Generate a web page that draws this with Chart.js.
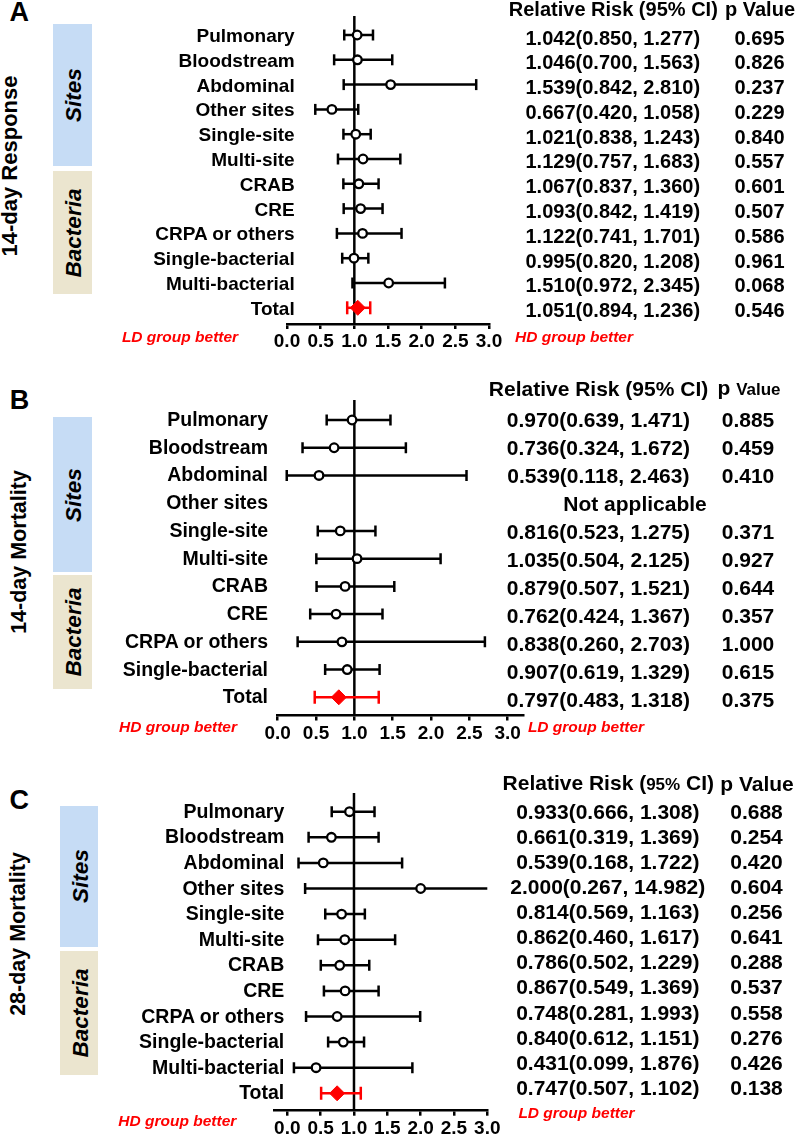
<!DOCTYPE html>
<html><head><meta charset="utf-8">
<script src="https://cdn.jsdelivr.net/npm/chart.js@4.4.1/dist/chart.umd.min.js"></script>
<style>
html,body{margin:0;padding:0;background:#fff;}
#page{position:relative;width:796px;height:1137px;overflow:hidden;background:#fff;font-family:"Liberation Sans",Arial,sans-serif;color:#000;}
#page canvas{position:absolute;left:0;}
.t{position:absolute;white-space:nowrap;}
</style></head><body><div id="page"></div>
<script>
// ---------- data ----------
const tickValues = [0, 0.5, 1, 1.5, 2, 2.5, 3];
const tickLabels = ['0.0', '0.5', '1.0', '1.5', '2.0', '2.5', '3.0'];
const nullValue = 1;

const rowsA = ['Pulmonary','Bloodstream','Abdominal','Other sites','Single-site','Multi-site','CRAB','CRE','CRPA or others','Single-bacterial','Multi-bacterial','Total'];
const rrA = [1.042,1.046,1.539,0.667,1.021,1.129,1.067,1.093,1.122,0.995,1.510,1.051];
const loA = [0.850,0.700,0.842,0.420,0.838,0.757,0.837,0.842,0.741,0.820,0.972,0.894];
const hiA = [1.277,1.563,2.810,1.058,1.243,1.683,1.360,1.419,1.701,1.208,2.345,1.236];
const pA  = ['0.695','0.826','0.237','0.229','0.840','0.557','0.601','0.507','0.586','0.961','0.068','0.546'];

const rowsB = ['Pulmonary','Bloodstream','Abdominal','Other sites','Single-site','Multi-site','CRAB','CRE','CRPA or others','Single-bacterial','Total'];
const rrB = [0.970,0.736,0.539,null,0.816,1.035,0.879,0.762,0.838,0.907,0.797];
const loB = [0.639,0.324,0.118,null,0.523,0.504,0.507,0.424,0.260,0.619,0.483];
const hiB = [1.471,1.672,2.463,null,1.275,2.125,1.521,1.367,2.703,1.329,1.318];
const pB  = ['0.885','0.459','0.410',null,'0.371','0.927','0.644','0.357','1.000','0.615','0.375'];

const rowsC = ['Pulmonary','Bloodstream','Abdominal','Other sites','Single-site','Multi-site','CRAB','CRE','CRPA or others','Single-bacterial','Multi-bacterial','Total'];
const rrC = [0.933,0.661,0.539,2.000,0.814,0.862,0.786,0.867,0.748,0.840,0.431,0.747];
const loC = [0.666,0.319,0.168,0.267,0.569,0.460,0.502,0.549,0.281,0.612,0.099,0.507];
const hiC = [1.308,1.369,1.722,14.982,1.163,1.617,1.229,1.369,1.993,1.151,1.876,1.102];
const pC  = ['0.688','0.254','0.420','0.604','0.256','0.641','0.288','0.537','0.558','0.276','0.426','0.138'];

const notApplicable = 'Not applicable';

// ---------- styles / layout ----------
const FONT = '"Liberation Sans", Arial, sans-serif';
const RED = '#ff0000';
const BLUE = '#c6dcf5';
const BEIGE = '#ebe5cf';
const LW = 2.5;

const panels = [
  { letter:'A', title:'14-day Response', rows:rowsA, rr:rrA, lo:loA, hi:hiA, p:pA,
    leftNote:'LD group better', rightNote:'HD group better',
    L:{ canvasTop:0, canvasH:356, plotLeft:287, plotRight:489, xMin:0, xMax:3, plotTop:16, axisY:324,
        rowTop:35, rowStep:24.8, labelRight:294.7, labelSize:19,
        letterX:19.3, letterY:12, titleX:10, titleY:166, titleSize:22, titleWeight:'bold',
        boxX:53.3, boxW:38.4, sites:[24,165.7], bact:[170.7,294.3],
        headY:9.3, headCiX:613.3, headPX:760, headSize:20, valueSize:20, pctSize:20,
        ciX:612.8, pX:759.5, tabSize:20, tabTop:37.5, tabStep:24.78,
        leftNoteX:180, leftNoteY:337, rightNoteX:574, rightNoteY:337 } },
  { letter:'B', title:'14-day Mortality', rows:rowsB, rr:rrB, lo:loB, hi:hiB, p:pB,
    leftNote:'HD group better', rightNote:'LD group better',
    L:{ canvasTop:380, canvasH:375, plotLeft:277.7, plotRight:523, xMin:0, xMax:3.2, plotTop:400, axisY:715.5,
        rowTop:420, rowStep:27.73, labelRight:268, labelSize:19.5,
        letterX:19.6, letterY:400, titleX:19.5, titleY:551.5, titleSize:21.5, titleWeight:'bold',
        boxX:53.3, boxW:38.4, sites:[417.3,572.3], bact:[575,689.3],
        headY:388, headCiX:598.5, headPX:749, headSize:21, valueSize:17, pctSize:21,
        ciX:598.4, pX:748, tabSize:21, tabTop:418.8, tabStep:28,
        leftNoteX:178, leftNoteY:727, rightNoteX:586, rightNoteY:727 } },
  { letter:'C', title:'28-day Mortality', rows:rowsC, rr:rrC, lo:loC, hi:hiC, p:pC,
    leftNote:'HD group better', rightNote:'LD group better',
    L:{ canvasTop:770, canvasH:367, plotLeft:274, plotRight:487.3, xMin:-0.2, xMax:3, plotTop:793, axisY:1110.7,
        rowTop:811.7, rowStep:25.6, labelRight:284.3, labelSize:19.5,
        letterX:19.2, letterY:800, titleX:18.6, titleY:934, titleSize:21.5, titleWeight:'bold',
        boxX:60, boxW:37.7, sites:[806,946.7], bact:[951,1075],
        headY:782.7, headCiX:608.3, headPX:757, headSize:21, valueSize:21, pctSize:17,
        ciX:607.8, pX:756.5, tabSize:21, tabTop:811, tabStep:25.07,
        leftNoteX:177.3, leftNoteY:1120.7, rightNoteX:576.5, rightNoteY:1113.3 } }
];

const page = document.getElementById('page');

function addText(html, x, y, css, align) {
  const d = document.createElement('div');
  d.className = 't';
  d.innerHTML = html;
  d.style.left = x + 'px';
  d.style.top = y + 'px';
  let tr = 'translate(-50%,-50%)';
  if (align === 'right') tr = 'translate(-100%,-50%)';
  if (align === 'rot') tr = 'translate(-50%,-50%) rotate(-90deg)';
  d.style.transform = tr;
  Object.assign(d.style, css);
  page.appendChild(d);
  return d;
}
function addBox(x, y0, y1, w, color) {
  const d = document.createElement('div');
  Object.assign(d.style, {position:'absolute', left:x+'px', top:y0+'px', width:w+'px', height:(y1-y0)+'px', background:color});
  page.appendChild(d);
}

const refLine = {
  id: 'refLine',
  beforeDatasetsDraw(chart) {
    const { ctx, chartArea: a, scales: { x } } = chart;
    const px = x.getPixelForValue(nullValue);
    ctx.save();
    ctx.strokeStyle = '#000';
    ctx.lineWidth = LW;
    ctx.beginPath();
    ctx.moveTo(px, a.top);
    ctx.lineTo(px, a.bottom);
    ctx.stroke();
    ctx.restore();
  }
};

function fmt(v) { return v.toFixed(3); }

panels.forEach(P => {
  const L = P.L;
  // group boxes
  addBox(L.boxX, L.sites[0], L.sites[1], L.boxW, BLUE);
  addBox(L.boxX, L.bact[0], L.bact[1], L.boxW, BEIGE);
  const boxCx = L.boxX + L.boxW / 2 + 0.8;
  const gf = {font:'italic bold 22.5px ' + FONT, lineHeight:'23px'};
  addText('Sites', boxCx, (L.sites[0] + L.sites[1]) / 2, gf, 'rot');
  addText('Bacteria', boxCx, (L.bact[0] + L.bact[1]) / 2, gf, 'rot');

  // letter + title
  addText(P.letter, L.letterX, L.letterY, {font:'bold 27px ' + FONT, lineHeight:'27px'});
  addText(P.title, L.titleX, L.titleY, {font:L.titleWeight + ' ' + L.titleSize + 'px ' + FONT, lineHeight:L.titleSize + 'px'}, 'rot');

  // canvas chart
  const cv = document.createElement('canvas');
  cv.width = 796; cv.height = L.canvasH;
  cv.style.top = L.canvasTop + 'px';
  cv.style.width = '796px'; cv.style.height = L.canvasH + 'px';
  page.appendChild(cv);

  const datasets = [];
  const circles = [], totals = [];
  P.rows.forEach((name, i) => {
    if (P.rr[i] == null) return;
    const isTotal = name === 'Total';
    (isTotal ? totals : circles).push({ x: P.rr[i], y: i });
    const col = isTotal ? RED : '#000';
    datasets.push({
      type: 'line',
      data: [{ x: P.lo[i], y: i }, { x: P.hi[i], y: i }],
      borderColor: col, borderWidth: LW, tension: 0, fill: false,
      pointStyle: 'line', pointRotation: 90, pointRadius: isTotal ? 6.5 : 5.5,
      pointBorderColor: col, pointBackgroundColor: col, pointBorderWidth: LW,
      order: 2
    });
  });
  datasets.push({ type: 'scatter', data: circles, showLine: false, pointStyle: 'circle', pointRadius: 4.3,
    pointBorderWidth: 2.3, pointBorderColor: '#000', pointBackgroundColor: '#fff', order: 1 });
  datasets.push({ type: 'scatter', data: totals, showLine: false, pointStyle: 'rectRot', pointRadius: 7.5,
    pointBorderWidth: 1, pointBorderColor: RED, pointBackgroundColor: RED, order: 0 });

  const yMin = -(L.rowTop - L.plotTop) / L.rowStep;
  const yMax = (L.axisY - L.rowTop) / L.rowStep;
  const axisH = L.canvasTop + L.canvasH - L.axisY;

  const chart = new Chart(cv, {
    type: 'scatter',
    data: { datasets },
    options: {
      responsive: false, animation: false, events: [], devicePixelRatio: 1,
      layout: { padding: { left: L.plotLeft, right: 796 - L.plotRight, top: L.plotTop - L.canvasTop, bottom: 0 } },
      plugins: { legend: { display: false }, tooltip: { enabled: false } },
      scales: {
        x: {
          type: 'linear', position: 'bottom', min: L.xMin, max: L.xMax,
          border: { display: true, color: '#000', width: LW },
          grid: { display: true, drawOnChartArea: false, drawTicks: true, tickLength: 5, color: '#000', lineWidth: LW },
          ticks: { color: '#000', font: { family: FONT, size: 19, weight: 'bold' }, padding: 1.5,
                   maxRotation: 0, autoSkip: false,
                   callback: (v) => { const k = tickValues.indexOf(v); return k >= 0 ? tickLabels[k] : ''; } },
          afterBuildTicks: (s) => { s.ticks = tickValues.map(v => ({ value: v })); },
          afterFit: (s) => { s.height = axisH; }
        },
        y: { type: 'linear', display: false, reverse: true, min: yMin, max: yMax }
      }
    },
    plugins: [refLine]
  });

  // row labels, aligned with scale
  const ys = chart.scales.y;
  P.rows.forEach((name, i) => {
    const y = L.canvasTop + ys.getPixelForValue(i);
    addText(name, L.labelRight, y, {font:'bold ' + L.labelSize + 'px ' + FONT, lineHeight:(L.labelSize + 4) + 'px'}, 'right');
  });

  // table header
  const hf = {font:'bold ' + L.headSize + 'px ' + FONT, lineHeight:(L.headSize + 4) + 'px'};
  addText('Relative Risk (<span style="font-size:' + L.pctSize + 'px">95%</span> CI)', L.headCiX, L.headY, hf);
  addText('p <span style="font-size:' + L.valueSize + 'px">Value</span>', L.headPX, L.headY, hf);

  // table rows
  const tf = {font:'bold ' + L.tabSize + 'px ' + FONT, lineHeight:(L.tabSize + 4) + 'px'};
  P.rows.forEach((name, i) => {
    const y = L.tabTop + i * L.tabStep;
    if (P.rr[i] == null) {
      addText(notApplicable, 635, y, tf);
      return;
    }
    addText(fmt(P.rr[i]) + '(' + fmt(P.lo[i]) + ', ' + fmt(P.hi[i]) + ')', L.ciX, y, tf);
    addText(P.p[i], L.pX, y, tf);
  });

  // direction notes
  const nf = {font:'italic bold 15.5px ' + FONT, lineHeight:'18px', color:RED};
  addText(P.leftNote, L.leftNoteX, L.leftNoteY, nf);
  addText(P.rightNote, L.rightNoteX, L.rightNoteY, nf);
});
</script></body></html>
